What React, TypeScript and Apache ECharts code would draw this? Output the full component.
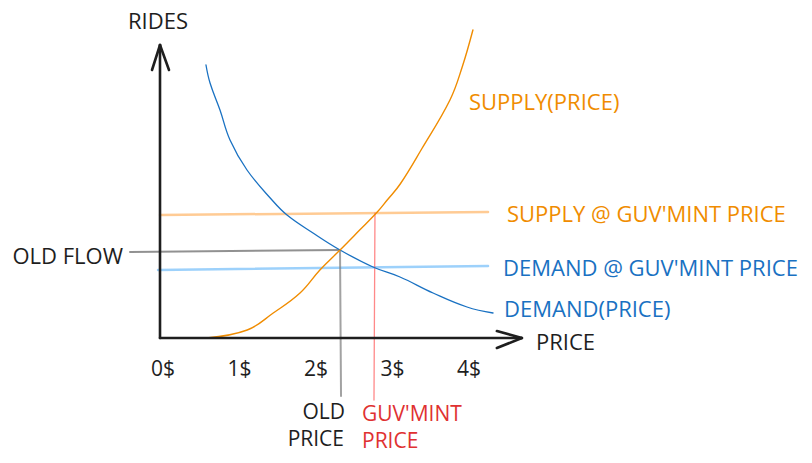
import React, { useEffect, useRef } from "react";
import * as echarts from "echarts";

// price ($) vs rides
const tickPrices = [0, 1, 2, 3, 4];
const demandCurve: [number, number][] = [
  [0.601, 273], [0.654, 255], [0.784, 228], [0.915, 198], [1.137, 168],
  [1.464, 138], [1.66, 123], [2.0, 105], [2.353, 88], [2.784, 71],
  [3.137, 61], [3.569, 45], [4.013, 31], [4.353, 25],
];
const supplyCurve: [number, number][] = [
  [0.61, 0], [1.14, 8], [1.48, 25], [1.83, 45], [2.09, 68], [2.353, 88],
  [2.61, 108], [2.84, 126], [2.97, 138], [3.14, 154], [3.42, 189],
  [3.79, 238], [3.95, 271], [4.09, 308],
];
const supplyAtGov: [number, number][] = [[0, 123], [4.288, 126]];
const demandAtGov: [number, number][] = [[-0.026, 68], [4.288, 72]];
const oldFlowLine: [number, number][] = [[-0.392, 86], [2.353, 88]];
const oldPriceLine: [number, number][] = [[2.353, 88], [2.366, -58]];
const govPriceLine: [number, number][] = [[2.81, 125], [2.797, -62]];

const FONT = "'Open Sans', sans-serif";
const SIZE = 22;
const INK = "#1e1e1e";
const ORANGE = "#f08c00";
const BLUE = "#1971c2";
const RED = "#e03131";

export default function App() {
  const ref = useRef<HTMLDivElement>(null);
  useEffect(() => {
    if (!ref.current) return;
    const chart = echarts.init(ref.current, null, { renderer: "svg" });
    const lineSeries = (data: [number, number][], color: string, width: number, opacity = 1, z = 2) => ({
      type: "line",
      data,
      smooth: data.length > 2 ? 0.4 : false,
      showSymbol: false,
      clip: false,
      z,
      silent: true,
      lineStyle: { color, width, opacity, cap: "round" },
    });
    chart.setOption({
      animation: false,
      grid: { left: 121.75, right: 288.6, top: 8, bottom: 125 },
      xAxis: {
        type: "value",
        min: -0.5,
        max: 4.75,
        interval: 0.5,
        axisLine: { show: false },
        axisTick: { show: false },
        splitLine: { show: false },
        axisLabel: {
          margin: 19,
          padding: [0, 0, 0, 6],
          fontFamily: FONT,
          fontSize: SIZE - 1,
          color: INK,
          formatter: (v: number) => (tickPrices.includes(v) ? `${v}$` : ""),
        },
      },
      yAxis: {
        type: "value",
        min: 0,
        max: 330,
        interval: 10,
        axisLine: { show: false },
        axisTick: { show: false },
        splitLine: { show: false },
        axisLabel: { show: false },
      },
      series: [
        lineSeries(supplyAtGov, "#ffa94d", 2.5, 0.6, 1),
        lineSeries(demandAtGov, "#4dabf7", 2.5, 0.55, 1),
        lineSeries(oldFlowLine, "#6c6c6c", 2, 0.75, 1),
        lineSeries(oldPriceLine, "#7a7a7a", 2, 0.7, 1),
        lineSeries(govPriceLine, "#ff6b6b", 1.3, 0.8, 1),
        lineSeries(demandCurve, BLUE, 1.3),
        lineSeries(supplyCurve, ORANGE, 1.4),
      ],
    });
    const px = (p: [number, number]) => chart.convertToPixel({ gridIndex: 0 }, p) as number[];
    const o = px([0, 0]);
    const yTop = px([0, 293]);
    const xEnd = px([4.73, 0]);
    const seg = (x1: number, y1: number, x2: number, y2: number) => ({
      type: "line",
      shape: { x1, y1, x2, y2 },
      style: { stroke: INK, lineWidth: 2.6, lineCap: "round" },
      z: 10,
    });
    const txt = (text: string, x: number, y: number, color: string, align = "left", size = SIZE) => ({
      type: "text",
      x,
      y,
      style: {
        text,
        fill: color,
        font: `${size}px ${FONT}`,
        textAlign: align,
        textVerticalAlign: "middle",
      },
      z: 10,
    });
    chart.setOption({
      graphic: [
        seg(o[0], o[1], yTop[0], yTop[1]),
        seg(yTop[0] - 8, yTop[1] + 25, yTop[0], yTop[1]),
        seg(yTop[0] + 9, yTop[1] + 25, yTop[0], yTop[1]),
        seg(o[0], o[1], xEnd[0], xEnd[1]),
        seg(xEnd[0] - 25, xEnd[1] - 7, xEnd[0], xEnd[1]),
        seg(xEnd[0] - 25, xEnd[1] + 10, xEnd[0], xEnd[1]),
        txt("RIDES", 158, 20, INK, "center"),
        txt("PRICE", 536, 341, INK),
        txt("OLD FLOW", 123, 255, INK, "right"),
        txt("SUPPLY(PRICE)", 469, 101, ORANGE),
        txt("SUPPLY @ GUV'MINT PRICE", 507, 213, ORANGE),
        txt("DEMAND @ GUV'MINT PRICE", 503, 267, BLUE),
        txt("DEMAND(PRICE)", 504, 308, BLUE),
        txt("OLD", 345, 411, INK, "right", 21),
        txt("PRICE", 344, 438, INK, "right", 21),
        txt("GUV'MINT", 362, 413, RED, "left", 21),
        txt("PRICE", 362, 440, RED, "left", 21),
      ],
    });
    return () => chart.dispose();
  }, []);
  return (
    <div
      ref={ref}
      style={{ position: "fixed", left: 0, top: 0, width: 812, height: 463, background: "#fff" }}
    />
  );
}
